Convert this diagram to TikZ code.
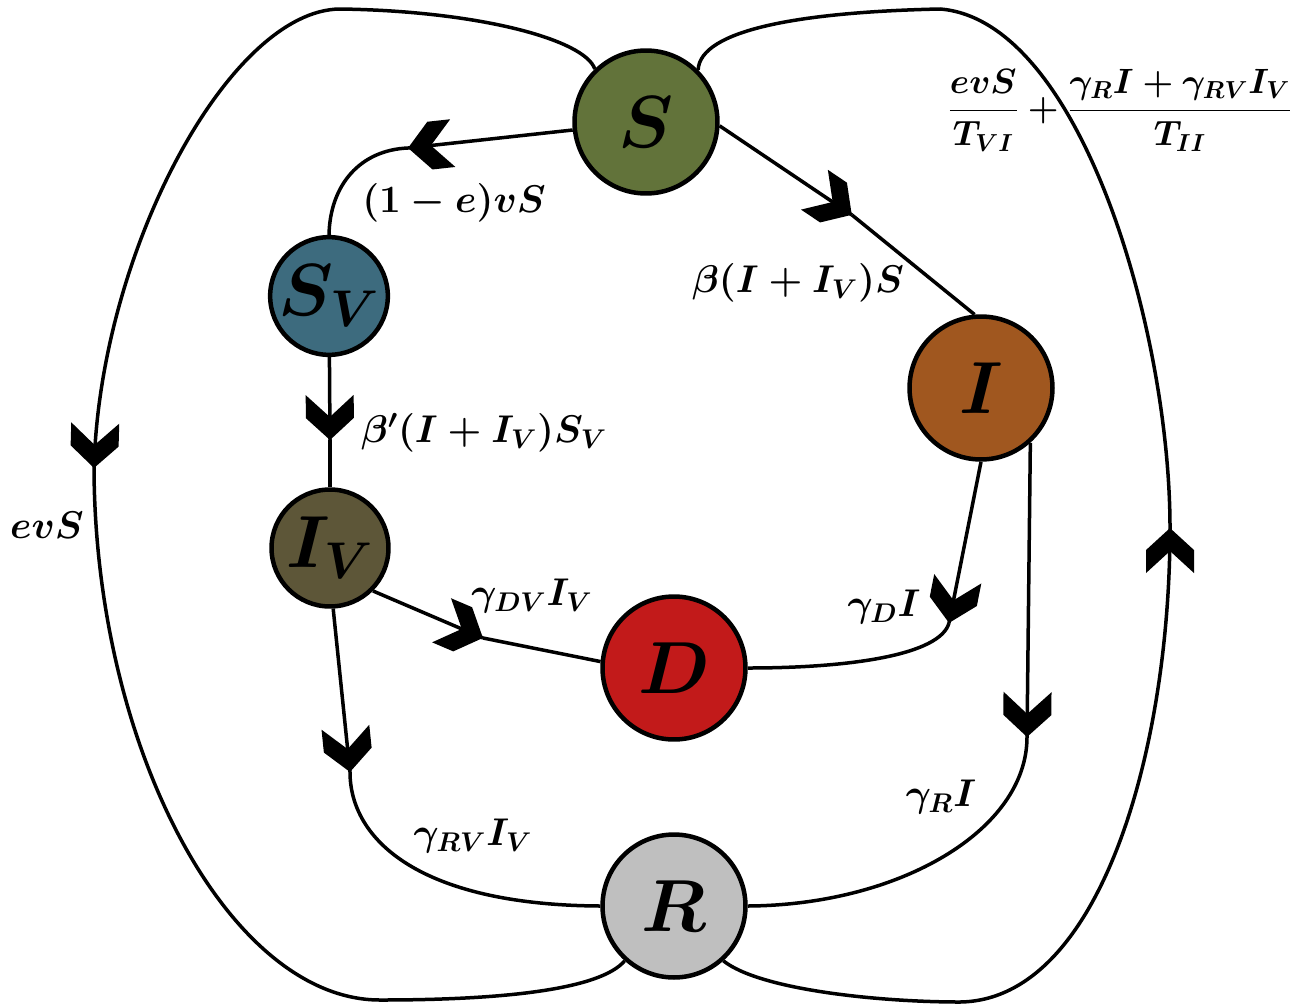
\RequirePackage{fix-cm}
\documentclass[tikz,border=0pt]{standalone}
\usepackage{amsmath}
\usetikzlibrary{decorations.markings}
\definecolor{cS}{HTML}{62733A}
\definecolor{cSV}{HTML}{3D6B7E}
\definecolor{cI}{HTML}{A0571F}
\definecolor{cIV}{HTML}{5D5638}
\definecolor{cD}{HTML}{C21A1A}
\definecolor{cR}{HTML}{BFBFBF}
\begin{document}
\begin{tikzpicture}[x=0.02cm,y=-0.02cm,
  comp/.style={circle, draw=black, line width=0.09cm, minimum size=2.86cm, inner sep=0pt, font=\boldmath\fontsize{42}{42}\selectfont},
  compsm/.style={comp, minimum size=2.34cm},
  conn/.style={line width=0.07cm},
  chev/.style={conn, postaction={decorate}, decoration={markings, mark=at position 0.9999 with {\fill[black] (0,0) -- (-22,24) -- (-45,24) -- (-23,0) -- (-45,-24) -- (-22,-24) -- cycle;}}},
  lab/.style={font=\boldmath\fontsize{22}{26}\selectfont, inner sep=0pt},
  fraclab/.style={font=\boldmath\fontsize{20}{24}\selectfont, inner sep=0pt}]
\useasboundingbox[fill=white] (0,0) rectangle (1304,1004);
% nodes
\node[comp, fill=cS] (S) at (646,122) {$S$};
\node[compsm, fill=cSV] (SV) at (329,296) {$S_V$};
\node[comp, fill=cI] (I) at (981,388) {$I$};
\node[compsm, fill=cIV] (IV) at (330,548) {$I_V$};
\node[comp, fill=cD] (D) at (674,668) {$D$};
\node[comp, fill=cR] (R) at (674,906) {$R$};
% chevron coordinates
\coordinate (c1) at (408,148);
\coordinate (c2) at (330,440);
\coordinate (c3) at (483,638);
\coordinate (c4) at (350,772);
\coordinate (c5) at (852,215);
\coordinate (c6) at (949,623);
\coordinate (c7) at (1027,737);
\coordinate (c8) at (94,468);
\coordinate (c9) at (1170,528);
\coordinate (t1) at (340,9);
\coordinate (b1) at (380,1000);
\coordinate (b2) at (960,1002);
\coordinate (t2) at (940,9);
% S -> SV
\draw[chev] (S) -- (c1);
\draw[conn] (c1) .. controls (360,150) and (330,185) .. (SV.north);
% SV -> IV
\draw[chev] (SV) -- (c2);
\draw[conn] (c2) -- (IV);
% IV -> D
\draw[chev] (IV.-45) -- (c3);
\draw[conn] (c3) -- (D.175);
% IV -> R
\draw[chev] (IV.-87) -- (c4);
\draw[conn] (c4) .. controls (350,840) and (420,905) .. (R.west);
% S -> I
\draw[chev] (S.-3) -- (c5);
\draw[conn] (c5) -- (I.95);
% I -> D
\draw[chev] (I.-90) -- (c6);
\draw[conn] (c6) .. controls (940,655) and (850,668) .. (D.east);
% I -> R
\draw[chev] (I.-48) -- (c7);
\draw[conn] (c7) .. controls (1027,830) and (900,905) .. (R.east);
% left loop S -> R
\draw[conn] (S.134) .. controls (585,40) and (480,11) .. (t1);
\draw[chev] (t1) .. controls (230,10) and (100,250) .. (c8);
\draw[conn] (c8) .. controls (95,750) and (230,1000) .. (b1)
  .. controls (500,1000) and (600,990) .. (R.228);
% right loop R -> S
\draw[conn] (R.-48) .. controls (760,990) and (880,1002) .. (b2);
\draw[chev] (b2) .. controls (1100,1000) and (1170,750) .. (c9);
\draw[conn] (c9) .. controls (1170,330) and (1080,20) .. (t2)
  .. controls (800,12) and (700,30) .. (S.45);
% labels
\node[lab] (l1) at (454,203) {$(1-e)vS$};
\node[lab] (l2) at (798,283) {$\beta(I+I_V)S$};
\node[lab] (l3) at (484,433) {$\beta'(I+I_V)S_V$};
\node[lab] (l4) at (47,525) {$evS$};
\node[lab] (l5) at (532,596) {$\gamma_{DV}I_V$};
\node[lab] (l6) at (884,607) {$\gamma_D I$};
\node[lab] (l7) at (473,836) {$\gamma_{RV}I_V$};
\node[lab] (l8) at (941,797) {$\gamma_R I$};
\node[fraclab] (l9) at (1120,110) {$\dfrac{evS}{T_{VI}}+\dfrac{\gamma_R I+\gamma_{RV}I_V}{T_{II}}$};
\end{tikzpicture}
\end{document}
